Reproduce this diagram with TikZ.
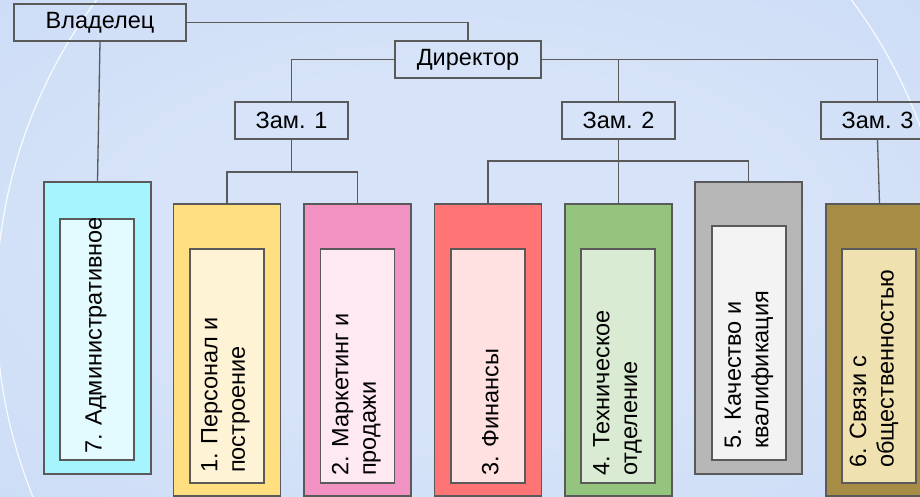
\documentclass[tikz,border=0pt]{standalone}
\usepackage{fontspec}
\setmainfont{Liberation Sans}
\definecolor{bgin}{HTML}{D6E3F8}
\definecolor{bgmid}{HTML}{C9DAF6}
\definecolor{bgout}{HTML}{A6C0EE}
\definecolor{lc}{HTML}{5A5A5A}
\definecolor{cAo}{HTML}{A6F4FE}\definecolor{cAi}{HTML}{E3FBFF}
\definecolor{cBo}{HTML}{FFDF80}\definecolor{cBi}{HTML}{FFF3D6}
\definecolor{cCo}{HTML}{F192C2}\definecolor{cCi}{HTML}{FEE9F3}
\definecolor{cDo}{HTML}{FF7575}\definecolor{cDi}{HTML}{FFE1E1}
\definecolor{cEo}{HTML}{94C47E}\definecolor{cEi}{HTML}{DAEBD3}
\definecolor{cFo}{HTML}{B7B7B7}\definecolor{cFi}{HTML}{F3F3F3}
\definecolor{cGo}{HTML}{A68C45}\definecolor{cGi}{HTML}{F0E1B1}
\pgfdeclareradialshading{bgshade}{\pgfpoint{0bp}{0bp}}{color(0bp)=(bgin); color(18bp)=(bgin); color(45bp)=(bgmid); color(71bp)=(bgout)}
\tikzset{
  conn/.style={draw=lc, line width=1.3pt},
  topbox/.style={draw=lc, line width=1.3pt, minimum width=113pt, minimum height=37pt, inner sep=0pt, font=\fontsize{23.5}{28}\selectfont},
  outerbox/.style={draw=lc, line width=1.3pt, minimum width=107pt, minimum height=292pt, inner sep=0pt},
  innerbox/.style={draw=lc, line width=1.3pt, minimum width=74pt, inner sep=0pt},
  vtext/.style={rotate=90, anchor=west, align=left, inner sep=0pt, font=\fontsize{23.5}{27.6}\selectfont}
}
\begin{document}
\begin{tikzpicture}[x=1pt,y=-1pt]
\useasboundingbox (0,0) rectangle (920,497);
\begin{scope}
\clip (0,0) rectangle (920,497);
\shade[shading=bgshade] (0,0) rectangle (920,497);
\draw[white, opacity=0.85, line width=1.2pt] (474,305) ellipse [x radius=478, y radius=497];

% top level boxes
\node[topbox, minimum width=172pt] (owner) at (100,22.5) {Владелец};
\node[topbox, minimum width=146pt] (dir) at (468,59.5) {Директор};
\node[topbox] (z1) at (291.5,120.5) {Зам. 1};
\node[topbox] (z2) at (618.5,120.5) {Зам. 2};
\node[topbox] (z3) at (877.5,120.5) {Зам. 3};

% department boxes
\node[outerbox, fill=cAo] (b7) at (97.5,328) {};
\node[outerbox, fill=cBo] (b1) at (227,350) {};
\node[outerbox, fill=cCo] (b2) at (357.5,350) {};
\node[outerbox, fill=cDo] (b3) at (488,350) {};
\node[outerbox, fill=cEo] (b4) at (618.5,350) {};
\node[outerbox, fill=cFo] (b5) at (748.5,328) {};
\node[outerbox, fill=cGo] (b6) at (879.5,350) {};

\node[innerbox, fill=cAi, minimum height=241pt] (i7) at (97,339.5) {};
\node[innerbox, fill=cBi, minimum height=234pt] (i1) at (227,366) {};
\node[innerbox, fill=cCi, minimum height=234pt] (i2) at (357.5,366) {};
\node[innerbox, fill=cDi, minimum height=234pt] (i3) at (488,366) {};
\node[innerbox, fill=cEi, minimum height=234pt] (i4) at (618,366) {};
\node[innerbox, fill=cFi, minimum height=234pt] (i5) at (749,343) {};
\node[innerbox, fill=cGi, minimum height=234pt] (i6) at (879,366) {};

\node[vtext] (t7) at (96,454) {7. Административное};
\node[vtext] (t1) at (225.5,473) {1. Персонал и\\построение};
\node[vtext] (t2) at (356.3,476) {2. Маркетинг и\\продажи};
\node[vtext] (t3) at (490.3,476) {3. Финансы};
\node[vtext] (t4) at (617.5,476) {4. Техническое\\отделение};
\node[vtext] (t5) at (749,449) {5. Качество и\\квалификация};
\node[vtext] (t6) at (874,468) {6. Связи с\\общественностью};

% connectors
\coordinate (j1) at (291.5,172);
\coordinate (j2) at (618.5,161);
\draw[conn] (owner.east) -| (dir.north);
\draw[conn] (owner.south) -- (b7.north);
\draw[conn] (dir.west) -| (z1.north);
\draw[conn] (dir.east) -| (z3.north);
\draw[conn] (z2.north) -- (z2.north |- dir.east);
\draw[conn] (z1.south) -- (j1);
\draw[conn] (b1.north) |- (j1) -| (b2.north);
\draw[conn] (z2.south) -- (b4.north);
\draw[conn] (b3.north) |- (j2) -| (b5.north);
\draw[conn] (z3.south) -- (b6.north);
\end{scope}
\end{tikzpicture}
\end{document}
